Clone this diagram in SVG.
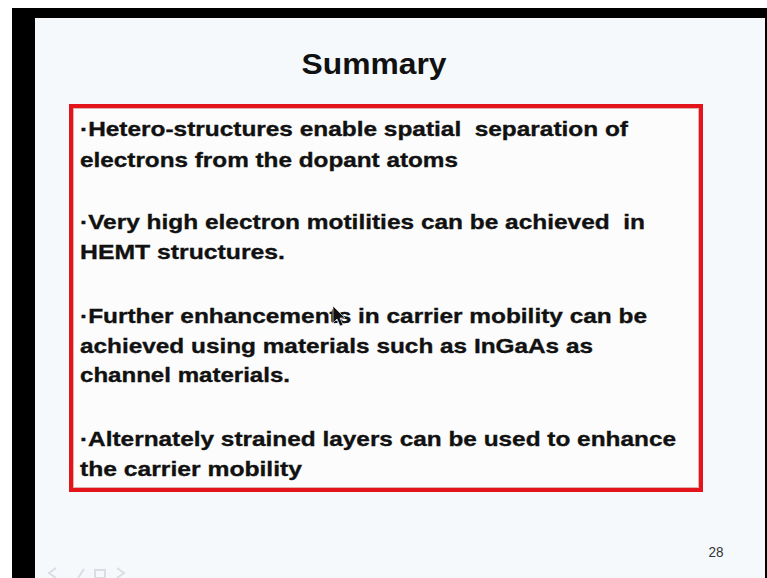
<svg xmlns="http://www.w3.org/2000/svg" width="767" height="578" viewBox="0 0 767 578">
  <style>
    .title { font-family: "Liberation Sans", Arial, sans-serif; font-weight: bold; font-size: 29px; fill: #111; }
    .body { font-family: "Liberation Sans", Arial, sans-serif; font-weight: bold; font-size: 21px; fill: #111; stroke: #111; stroke-width: 0.35; }
    .pg { font-family: "Liberation Sans", Arial, sans-serif; font-size: 14px; fill: #333; }
    .nav { fill: none; stroke: #d4d8dc; stroke-width: 2; }
  </style>

  <!-- screen margin and frame -->
  <rect x="0" y="0" width="767" height="578" fill="#ffffff"/>
  <rect x="12" y="8" width="755" height="570" fill="#000000"/>
  <!-- slide -->
  <rect x="35" y="18" width="730" height="560" fill="#f5f9fc"/>

  <!-- title -->
  <text class="title" x="374" y="74" text-anchor="middle" textLength="145" lengthAdjust="spacingAndGlyphs">Summary</text>

  <!-- summary box -->
  <g id="summary-box">
    <rect x="71" y="106" width="630" height="384" fill="#fbfcfb" stroke="#e3141c" stroke-width="4"/>
    <rect x="73.5" y="108.5" width="625" height="379" fill="none" stroke="#b8433a" stroke-width="0.8" opacity="0.5"/>
  </g>

  <!-- bullet text -->
  <g id="bullets">
    <text class="body" x="80" y="136" textLength="548" lengthAdjust="spacingAndGlyphs" xml:space="preserve">·Hetero-structures enable spatial  separation of</text>
    <text class="body" x="80" y="167" textLength="378" lengthAdjust="spacingAndGlyphs">electrons from the dopant atoms</text>

    <text class="body" x="80" y="229" textLength="565" lengthAdjust="spacingAndGlyphs" xml:space="preserve">·Very high electron motilities can be achieved  in</text>
    <text class="body" x="80" y="259" textLength="205" lengthAdjust="spacingAndGlyphs">HEMT structures.</text>

    <text class="body" x="80" y="323" textLength="567" lengthAdjust="spacingAndGlyphs">·Further enhancements in carrier mobility can be</text>
    <text class="body" x="80" y="353" textLength="513" lengthAdjust="spacingAndGlyphs">achieved using materials such as InGaAs as</text>
    <text class="body" x="80" y="382" textLength="210" lengthAdjust="spacingAndGlyphs">channel materials.</text>

    <text class="body" x="80" y="446" textLength="596" lengthAdjust="spacingAndGlyphs">·Alternately strained layers can be used to enhance</text>
    <text class="body" x="80" y="476" textLength="222" lengthAdjust="spacingAndGlyphs">the carrier mobility</text>
  </g>

  <!-- mouse pointer -->
  <path d="M333,306 L333,323 L337,319 L340,326 L343,325 L340,318 L345,318 Z" fill="#111" stroke="#f5f9fc" stroke-width="0.6"/>

  <!-- slide number -->
  <text class="pg" x="716" y="557" text-anchor="middle" textLength="15" lengthAdjust="spacingAndGlyphs">28</text>

  <!-- slide navigation icons -->
  <g id="nav" opacity="0.8">
    <path class="nav" d="M56,578 L49,573 L56,568"/>
    <path class="nav" d="M78,578 L84,569"/>
    <rect class="nav" x="95" y="570" width="10" height="8"/>
    <path class="nav" d="M117,568 L124,573 L117,578"/>
  </g>
</svg>
